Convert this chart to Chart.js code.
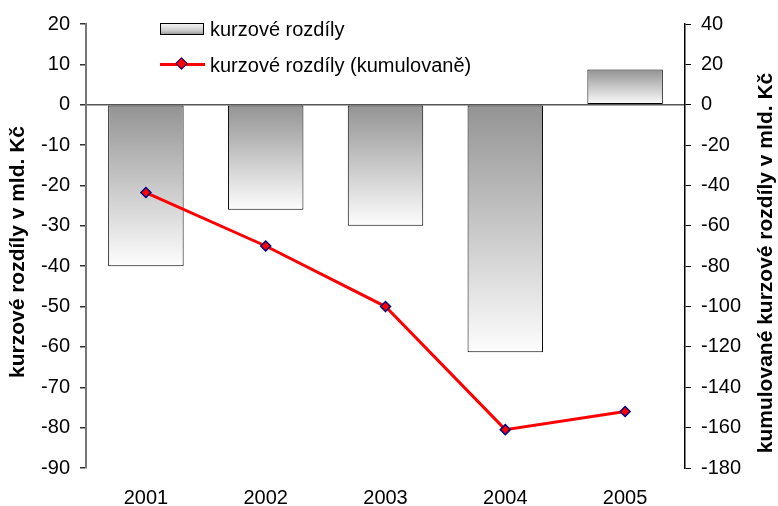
<!DOCTYPE html>
<html>
<head>
<meta charset="utf-8">
<script src="https://cdn.jsdelivr.net/npm/chart.js@4/dist/chart.umd.min.js"></script>
<style>
  body { margin: 0; background: #fff; }
  .wrap { position: relative; width: 778px; height: 506px; }
  .legend { position: absolute; left: 0; top: 0; font: 20px "Liberation Sans", Arial, sans-serif; color: #000; }
  .legend .txt { position: absolute; left: 210px; transform: translateY(-50%); white-space: nowrap; line-height: 22px; }
  .legend .box { position: absolute; left: 160px; top: 23px; width: 42px; height: 10px; border: 1px solid #000;
    background: linear-gradient(to bottom, #f4f4f4, #c8c8c8 70%, #9a9a9a); }
  .legend .line { position: absolute; left: 160px; top: 63px; width: 45px; height: 3px; background: #ff0000; }
  .legend .dia { position: absolute; left: 177px; top: 59px; width: 7px; height: 7px; background: #ff0000;
    border: 1.5px solid #000080; transform: rotate(45deg); }
</style>
</head>
<body>
<div class="wrap">
  <canvas id="chart" width="778" height="506"></canvas>
  <div class="legend">
    <div class="box"></div><span class="txt" style="top:29px">kurzové rozdíly</span>
    <div class="line"></div><div class="dia"></div><span class="txt" style="top:65px">kurzové rozdíly (kumulovaně)</span>
  </div>
</div>
<script>
const years = ["2001", "2002", "2003", "2004", "2005"];
const rozdily = [-40, -26, -30, -61.3, 8.7];
const kumulovane = [-43.5, -70, -100, -161, -152];

const leftTitle = "kurzové rozdíly v mld. Kč";
const rightTitle = "kumulované kurzové rozdíly v mld. Kč";
const tickFont = { family: "'Liberation Sans', Arial, sans-serif", size: 20 };

function barGradient(c) {
    const chart = c.chart;
    const area = chart.chartArea;
    if (!area || !chart.scales.y) return "#bbbbbb";
    const y0 = chart.scales.y.getPixelForValue(0);
    const y1 = chart.scales.y.getPixelForValue(c.raw);
    const top = Math.min(y0, y1);
    const bottom = Math.max(y0, y1);
    const g = chart.ctx.createLinearGradient(0, top, 0, bottom);
    g.addColorStop(0, "#939393");
    g.addColorStop(1, "#fdfdfd");
    return g;
}

// rotated axis titles, both reading bottom to top
const axisTitles = {
    id: "axisTitles",
    afterDraw(chart) {
        const ctx = chart.ctx;
        ctx.save();
        ctx.fillStyle = "#000";
        ctx.font = "bold 21px 'Liberation Sans', Arial, sans-serif";
        ctx.textAlign = "center";
        ctx.textBaseline = "middle";
        ctx.translate(18, 252);
        ctx.rotate(-Math.PI / 2);
        ctx.fillText(leftTitle, 0, 0);
        ctx.restore();

        ctx.save();
        ctx.fillStyle = "#000";
        ctx.font = "bold 21px 'Liberation Sans', Arial, sans-serif";
        ctx.textAlign = "center";
        ctx.textBaseline = "middle";
        ctx.translate(766, 263);
        ctx.rotate(-Math.PI / 2);
        ctx.fillText(rightTitle, 0, 0);
        ctx.restore();
    }
};

const ctx = document.getElementById("chart");
const chart = new Chart(ctx, {
    data: {
        labels: years,
        datasets: [
            {
                type: "line",
                label: "kurzové rozdíly (kumulovaně)",
                data: kumulovane,
                yAxisID: "y1",
                borderColor: "#ff0000",
                borderWidth: 3,
                pointStyle: "rectRot",
                pointRadius: 5,
                pointBackgroundColor: "#ff0000",
                pointBorderColor: "#000080",
                pointBorderWidth: 1.5,
                tension: 0,
                order: 0
            },
            {
                type: "bar",
                label: "kurzové rozdíly",
                data: rozdily,
                yAxisID: "y",
                backgroundColor: barGradient,
                borderColor: "#000",
                borderWidth: 1,
                borderSkipped: false,
                barPercentage: 0.63,
                categoryPercentage: 1,
                order: 1
            }
        ]
    },
    options: {
        responsive: false,
        animation: false,
        layout: { padding: { top: 24, left: 0, right: 0, bottom: 0 } },
        plugins: { legend: { display: false }, tooltip: { enabled: false } },
        scales: {
            x: {
                grid: { display: false, drawTicks: false },
                border: { display: false },
                ticks: { color: "#000", font: tickFont, padding: 18 },
                afterFit(scale) { scale.height = 38; }
            },
            y: {
                position: "left",
                min: -90,
                max: 20,
                ticks: { stepSize: 10, color: "#000", font: tickFont, padding: 10 },
                grid: {
                    drawOnChartArea: true,
                    color: c => (c.tick && c.tick.value === 0) ? "#555" : "rgba(0,0,0,0)",
                    tickColor: "#333",
                    tickLength: 6,
                    lineWidth: 1.5
                },
                border: { color: "#777", width: 2 },
                afterFit(scale) { scale.width = 86; }
            },
            y1: {
                position: "right",
                min: -180,
                max: 40,
                ticks: { stepSize: 20, color: "#000", font: tickFont, padding: 10 },
                grid: { drawOnChartArea: false, tickColor: "#000", tickLength: 6 },
                border: { color: "#000", width: 1.5 },
                afterFit(scale) { scale.width = 93; }
            }
        }
    },
    plugins: [axisTitles]
});
</script>
</body>
</html>
